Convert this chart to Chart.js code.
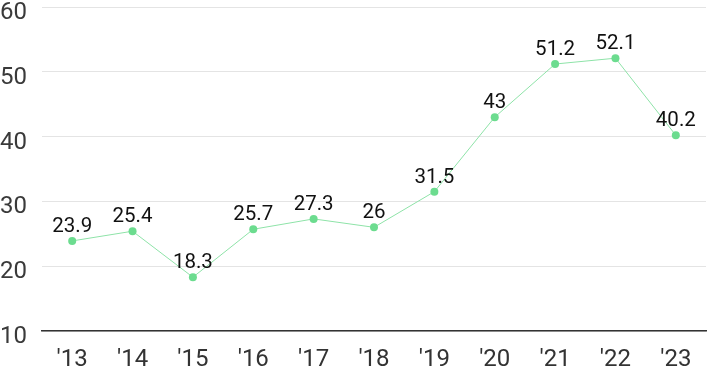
<!doctype html>
<html>
<head>
  <script src="https://cdn.jsdelivr.net/npm/chart.js@4/dist/chart.umd.min.js"></script>
  <style>
    html, body { margin: 0; padding: 0; background: #fff; }
    #wrap { width: 710px; height: 371px; }
  </style>
</head>
<body>
  <div id="wrap"><canvas id="canvas"></canvas></div>
  <script>
    const years = ["'13", "'14", "'15", "'16", "'17", "'18", "'19", "'20", "'21", "'22", "'23"];
    const values = [23.9, 25.4, 18.3, 25.7, 27.3, 26, 31.5, 43, 51.2, 52.1, 40.2];

    // draws the value above each point
    const valueLabels = {
      id: 'valueLabels',
      afterDatasetsDraw(chart) {
        const ctx = chart.ctx;
        const meta = chart.getDatasetMeta(0);
        ctx.save();
        ctx.font = '20.5px Roboto';
        ctx.fillStyle = '#111';
        ctx.textAlign = 'center';
        ctx.textBaseline = 'alphabetic';
        meta.data.forEach((pt, i) => {
          ctx.fillText(String(values[i]), pt.x, pt.y - 9);
        });
        ctx.restore();
      }
    };

    new Chart(document.getElementById('canvas'), {
      type: 'line',
      data: {
        labels: years,
        datasets: [{
          data: values,
          borderColor: '#8ee3a8',
          borderWidth: 1,
          backgroundColor: '#6cdc8f',
          pointBackgroundColor: '#6cdc8f',
          pointBorderWidth: 0,
          pointRadius: 4,
          tension: 0
        }]
      },
      options: {
        responsive: true,
        maintainAspectRatio: false,
        animation: false,
        layout: { padding: 0 },
        plugins: {
          legend: { display: false },
          tooltip: { enabled: false }
        },
        scales: {
          x: {
            offset: true,
            grid: { display: false, drawTicks: false },
            border: { color: '#333', width: 1.5 },
            ticks: { color: '#333', font: { family: 'Roboto', size: 24 }, padding: 15 },
            afterFit(scale) {
              scale.height = 40;
              scale.paddingLeft = 0;
              scale.paddingRight = 0;
            }
          },
          y: {
            min: 10,
            max: 60,
            ticks: { stepSize: 10, color: '#3a3a3a', font: { family: 'Roboto', size: 24 }, padding: 15, labelOffset: 6 },
            grid: { color: '#e4e4e4', drawTicks: false },
            border: { display: false },
            afterFit(scale) {
              scale.width = 42;
              scale.paddingTop = 7;
              scale.paddingBottom = 0;
            }
          }
        }
      },
      plugins: [valueLabels]
    });
  </script>
</body>
</html>
